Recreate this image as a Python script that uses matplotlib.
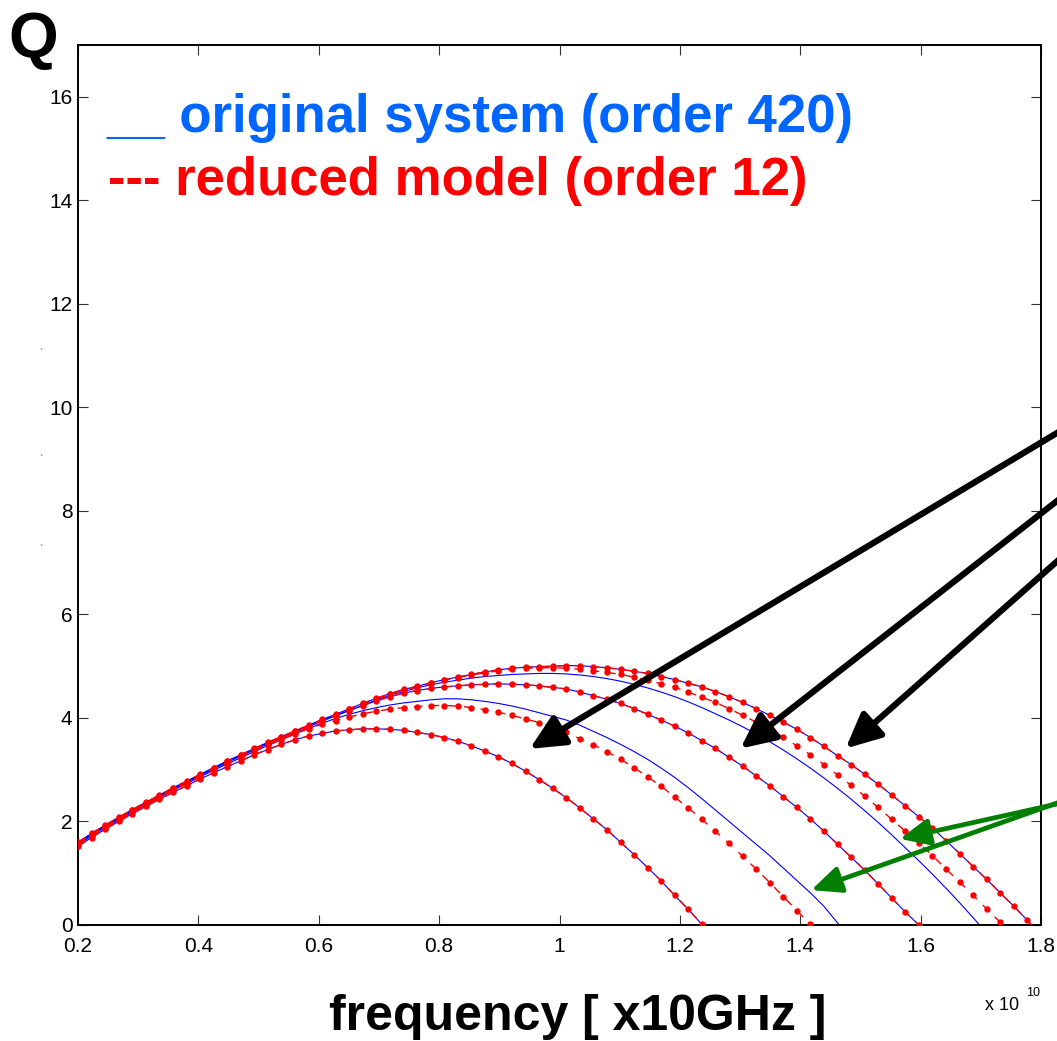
import numpy as np
import matplotlib
matplotlib.use("Agg")
from matplotlib import pyplot as plt
from matplotlib.patches import FancyArrowPatch

plt.rcParams['font.family'] = ['Liberation Sans', 'DejaVu Sans']

# sampling grid of the frequency sweep (Hz)
freq = np.linspace(0.2e10, 1.8e10, 72)

# Q values, one list per curve (starting at 0.2e10)
q1 = [1.52, 1.69, 1.85, 2.00, 2.15, 2.29, 2.43, 2.56, 2.69, 2.82, 2.94, 3.06, 3.17,
      3.29, 3.39, 3.49, 3.58, 3.65, 3.70,
      3.75, 3.77, 3.79, 3.79, 3.78, 3.76, 3.72, 3.68, 3.62, 3.55, 3.46, 3.36, 3.25, 3.12,
      2.97, 2.81, 2.64, 2.46, 2.26, 2.05, 1.84, 1.60, 1.36, 1.11, 0.85, 0.57, 0.30, 0.01,
      -0.28]
q2_orig = [1.55, 1.72, 1.88, 2.03, 2.18, 2.32, 2.46, 2.60, 2.73, 2.86, 2.99, 3.11, 3.23,
           3.35, 3.47, 3.58, 3.69,
           3.80, 3.90, 3.99, 4.07, 4.14, 4.20, 4.25, 4.29, 4.32, 4.35,
           4.37, 4.37, 4.35, 4.32, 4.28, 4.23, 4.17, 4.10, 4.03, 3.96, 3.86, 3.74, 3.62, 3.49,
           3.35, 3.20, 3.03, 2.85, 2.65, 2.44, 2.22, 2.00, 1.78, 1.56, 1.34, 1.10, 0.86, 0.62,
           0.36, 0.04, -0.28]
q2_red = [1.55, 1.72, 1.88, 2.03, 2.18, 2.32, 2.46, 2.60, 2.73, 2.86, 2.99, 3.11, 3.23,
          3.35, 3.47, 3.58, 3.69,
          3.79, 3.88, 3.95, 4.02, 4.08, 4.13, 4.17, 4.20, 4.22, 4.24,
          4.24, 4.23, 4.20, 4.16, 4.11, 4.05, 3.98, 3.91, 3.82, 3.72, 3.60, 3.48, 3.35, 3.20,
          3.04, 2.86, 2.68, 2.47, 2.26, 2.04, 1.81, 1.58, 1.33, 1.08, 0.82, 0.55, 0.28, 0.01,
          -0.27]
q3 = [1.57, 1.74, 1.90, 2.05, 2.20, 2.34, 2.48, 2.62, 2.75, 2.88, 3.01, 3.14, 3.26,
      3.38, 3.50, 3.61, 3.72, 3.83, 3.94,
      4.04, 4.14, 4.24, 4.33, 4.41, 4.48, 4.53, 4.57, 4.60, 4.62, 4.64, 4.65, 4.66,
      4.65, 4.64, 4.62, 4.59, 4.56, 4.50, 4.43, 4.36, 4.28, 4.18, 4.07, 3.96, 3.84, 3.71,
      3.56, 3.41, 3.24, 3.07, 2.88, 2.69, 2.48, 2.27, 2.05, 1.81, 1.56, 1.31, 1.06, 0.79,
      0.52, 0.25, 0.00, -0.28]
q4_orig = [1.59, 1.76, 1.92, 2.07, 2.22, 2.36, 2.50, 2.64, 2.77, 2.90, 3.03, 3.16, 3.28,
           3.40, 3.52, 3.63, 3.74, 3.85, 3.96,
           4.05, 4.15, 4.24, 4.35, 4.44, 4.51, 4.58, 4.64, 4.69, 4.73, 4.77, 4.80, 4.82,
           4.84, 4.85, 4.86, 4.86,
           4.85, 4.83, 4.80, 4.76, 4.71, 4.65, 4.58, 4.50, 4.41, 4.31, 4.20, 4.08, 3.96, 3.83,
           3.69, 3.54, 3.38, 3.21, 3.03, 2.84, 2.64, 2.43, 2.21, 1.98, 1.74, 1.49, 1.24, 0.98,
           0.71, 0.43, 0.14, -0.16]
q4_red = [1.59, 1.76, 1.92, 2.07, 2.22, 2.36, 2.50, 2.64, 2.77, 2.90, 3.03, 3.16, 3.28,
          3.40, 3.52, 3.63, 3.74, 3.85, 3.96,
          4.06, 4.17, 4.27, 4.37, 4.46, 4.54, 4.60, 4.67, 4.73, 4.78, 4.83, 4.87, 4.91,
          4.94, 4.96, 4.97, 4.97,
          4.96, 4.94, 4.91, 4.88, 4.84, 4.79, 4.73, 4.66, 4.59, 4.50, 4.40, 4.30, 4.18, 4.05,
          3.92, 3.78, 3.63, 3.46, 3.29, 3.10, 2.90, 2.70, 2.49, 2.27, 2.04, 1.81, 1.58, 1.34,
          1.08, 0.83, 0.57, 0.31, 0.05, -0.22]
q5 = [1.60, 1.77, 1.93, 2.08, 2.23, 2.37, 2.51, 2.65, 2.78, 2.91, 3.04, 3.17, 3.29,
      3.41, 3.53, 3.64, 3.75, 3.86, 3.97,
      4.07, 4.18, 4.28, 4.38, 4.47, 4.55, 4.61, 4.68, 4.74, 4.79, 4.84, 4.89, 4.93,
      4.96, 4.98, 4.99, 5.00,
      5.01, 5.01, 4.99, 4.97, 4.94, 4.90, 4.86, 4.80, 4.74, 4.67, 4.60, 4.51, 4.41, 4.30,
      4.18, 4.05, 3.92, 3.78, 3.62, 3.45, 3.27, 3.10, 2.91, 2.72, 2.51, 2.30, 2.09, 1.87,
      1.63, 1.38, 1.13, 0.88, 0.62, 0.36, 0.09, -0.20]

original_curves = [q1, q2_orig, q3, q4_orig, q5]
reduced_curves = [q1, q2_red, q3, q4_red, q5]

xticks = [0.2e10, 0.4e10, 0.6e10, 0.8e10, 1.0e10, 1.2e10, 1.4e10, 1.6e10, 1.8e10]
xtick_labels = ['0.2', '0.4', '0.6', '0.8', '1', '1.2', '1.4', '1.6', '1.8']
yticks = [0, 2, 4, 6, 8, 10, 12, 14, 16]

# arrows: (tip, tail) in data coordinates, tails lie past the right border
black_arrows = [((0.9465e10, 3.375), (1.899e10, 10.01)),
                ((1.297e10, 3.375), (1.899e10, 8.85)),
                ((1.472e10, 3.375), (1.899e10, 7.77))]
green_arrows = [((1.561e10, 1.653), (1.866e10, 2.44)),
                ((1.414e10, 0.656), (1.866e10, 2.52))]

W, H = 1057, 1041
fig = plt.figure(figsize=(W / 100, H / 100), dpi=100)
ax = fig.add_axes([78 / W, 1 - 925 / H, (1041 - 78) / W, (925 - 45) / H])

for q in original_curves:
    ax.plot(freq[:len(q)], q, color='#0000ff', lw=0.8, zorder=2)
for q in reduced_curves:
    ax.plot(freq[:len(q)], q, color='#ff0000', lw=1.0, ls=(0, (6, 6)),
            marker='o', ms=4.6, mew=0, zorder=3)

ax.set_xlim(0.2e10, 1.8e10)
ax.set_ylim(0, 17)
ax.set_xticks(xticks)
ax.set_xticklabels(xtick_labels)
ax.set_yticks(yticks)
ax.tick_params(direction='in', top=True, right=True, length=7, width=0.8,
               labelsize=15, color='#333333')
ax.tick_params(axis='x', pad=9)
ax.tick_params(axis='y', pad=4)
for s in ax.spines.values():
    s.set_linewidth(1.4)

for tip, tail in black_arrows:
    ar = FancyArrowPatch(tail, tip, transform=ax.transData, clip_on=False,
                         arrowstyle='-|>,head_length=1.05,head_width=0.5',
                         mutation_scale=20, lw=4.5, color='black', zorder=5)
    fig.add_artist(ar)
for tip, tail in green_arrows:
    ar = FancyArrowPatch(tail, tip, transform=ax.transData, clip_on=False,
                         arrowstyle='-|>,head_length=1.0,head_width=0.45',
                         mutation_scale=18, lw=3.4, color='#007f00', zorder=5)
    fig.add_artist(ar)

# texts placed in pixel positions of the original
def px(x, y):
    return x / W, 1 - y / H

fig.text(*px(8, 58), 'Q', fontsize=46, fontweight='bold', va='baseline')
fig.text(*px(107, 132), '__ original system (order 420)', fontsize=38,
         fontweight='bold', color='#0066ff', va='baseline')
fig.text(*px(108, 195), '--- reduced model (order 12)', fontsize=38,
         fontweight='bold', color='#ff0000', va='baseline')
fig.text(*px(578, 1030), 'frequency [ x10GHz ]', fontsize=36,
         fontweight='bold', ha='center', va='baseline')
fig.text(*px(985, 1010), 'x 10', fontsize=13, va='baseline')
fig.text(*px(1026, 996), '10', fontsize=9, va='baseline')
for y in [354, 460, 550]:
    fig.text(*px(40, y), '`', fontsize=7, color='#444444', va='center')

fig.savefig('out.png', dpi=100)
